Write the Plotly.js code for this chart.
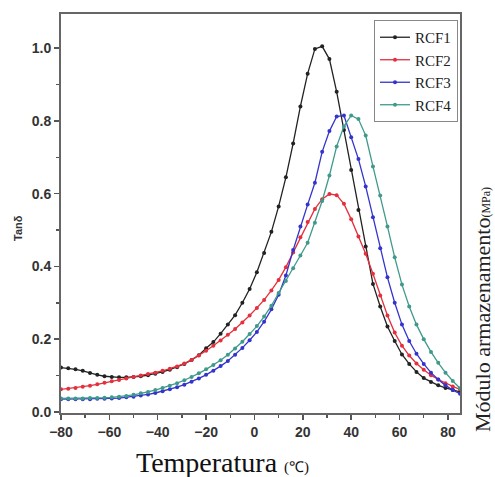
<!DOCTYPE html>
<html>
<head>
<meta charset="utf-8">
<script src="https://cdn.plot.ly/plotly-3.0.1.min.js"></script>
<style>html,body{margin:0;padding:0;background:#fff}#chart{width:495px;height:477px}</style>
</head>
<body>
<div id="chart"></div>
<script>
const temperature = [-80,-77,-74,-71,-68,-65,-62,-59,-56,-53,-50,-47,-44,-41,-38,-35,-32,-29,-26,-23,-20,-17,-14,-11,-8,-5,-2,1,4,7,10,13,16,19,22,25,28,31,34,37,40,43,46,49,52,55,58,61,64,67,70,73,76,79,82,85];

const rcf1 = [0.122,0.120,0.117,0.113,0.107,0.102,0.098,0.096,0.095,0.095,0.096,0.098,0.101,0.105,0.110,0.116,0.123,0.132,0.143,0.156,0.175,0.192,0.215,0.240,0.266,0.300,0.338,0.384,0.437,0.495,0.565,0.645,0.738,0.840,0.930,0.998,1.005,0.970,0.880,0.775,0.665,0.555,0.455,0.352,0.290,0.235,0.195,0.158,0.132,0.110,0.093,0.082,0.073,0.066,0.060,0.055];

const rcf2 = [0.062,0.064,0.066,0.069,0.072,0.076,0.080,0.084,0.088,0.092,0.096,0.100,0.104,0.108,0.113,0.119,0.125,0.133,0.143,0.155,0.168,0.182,0.196,0.212,0.228,0.246,0.265,0.286,0.308,0.334,0.363,0.398,0.438,0.480,0.522,0.558,0.585,0.599,0.596,0.572,0.530,0.482,0.435,0.380,0.320,0.265,0.218,0.182,0.155,0.133,0.116,0.101,0.089,0.079,0.070,0.062];

const rcf3 = [0.035,0.035,0.035,0.035,0.035,0.036,0.036,0.037,0.038,0.040,0.042,0.045,0.048,0.052,0.057,0.062,0.068,0.075,0.083,0.092,0.102,0.113,0.126,0.140,0.157,0.176,0.197,0.220,0.248,0.282,0.322,0.375,0.445,0.510,0.570,0.630,0.715,0.772,0.812,0.815,0.755,0.695,0.620,0.535,0.450,0.370,0.300,0.240,0.195,0.160,0.132,0.108,0.089,0.073,0.060,0.050];

const rcf4 = [0.037,0.037,0.037,0.037,0.038,0.038,0.039,0.040,0.042,0.044,0.047,0.051,0.055,0.060,0.066,0.072,0.079,0.087,0.096,0.106,0.117,0.129,0.142,0.157,0.174,0.193,0.214,0.236,0.262,0.292,0.327,0.360,0.395,0.430,0.465,0.520,0.580,0.650,0.730,0.785,0.815,0.805,0.760,0.675,0.595,0.510,0.425,0.350,0.290,0.240,0.200,0.165,0.135,0.108,0.085,0.065];

const seriesNames = ["RCF1","RCF2","RCF3","RCF4"];
const seriesColors = ["#222222","#e3303c","#3434cc","#3f9a8c"];
const seriesValues = [rcf1, rcf2, rcf3, rcf4];

const traces = seriesValues.map((vals, i) => ({
  x: temperature, y: vals, name: seriesNames[i],
  type: "scatter", mode: "lines+markers",
  legendgroup: "g" + i,
  line: {color: seriesColors[i], width: 1.3},
  marker: {color: seriesColors[i], size: 4}
}));

const tickFont = {family: "Liberation Sans, Arial, sans-serif", size: 14, color: "#333", weight: "bold"};

const layout = {
  width: 495, height: 477,
  margin: {l: 61, r: 35, t: 14, b: 64},
  paper_bgcolor: "#ffffff", plot_bgcolor: "#ffffff",
  showlegend: true,
  legend: {
    x: 0.995, y: 0.985, xanchor: "right", yanchor: "top",
    bordercolor: "#888", borderwidth: 1, bgcolor: "#ffffff",
    font: {family: "Liberation Serif, Times New Roman, serif", size: 15, color: "#222"},
    tracegroupgap: 0, itemwidth: 30
  },
  xaxis: {
    range: [-80, 85], tickvals: [-80,-60,-40,-20,0,20,40,60,80],
    ticks: "outside", ticklen: 5, tickwidth: 1.5, tickcolor: "#555",
    minor: {dtick: 10, tick0: -80, ticks: "outside", ticklen: 3, tickcolor: "#555", showgrid: false},
    showline: true, linecolor: "#666", linewidth: 2, mirror: true,
    showgrid: false, zeroline: false, tickfont: tickFont
  },
  yaxis: {
    range: [-0.003, 1.094], tickvals: [0,0.2,0.4,0.6,0.8,1.0], ticktext: ["0.0","0.2","0.4","0.6","0.8","1.0"],
    ticks: "outside", ticklen: 5, tickwidth: 1.5, tickcolor: "#555",
    minor: {dtick: 0.1, tick0: 0, ticks: "outside", ticklen: 3, tickcolor: "#555", showgrid: false},
    showline: true, linecolor: "#666", linewidth: 2, mirror: true,
    showgrid: false, zeroline: false, tickfont: tickFont
  },
  annotations: [
    {text: "Temperatura <span style='font-size:15px'>(℃)</span>", xref: "paper", yref: "paper",
     x: (222 - 61) / 399, y: -(462 - 413) / 399, xanchor: "center", yanchor: "middle", showarrow: false,
     font: {family: "Liberation Serif, Times New Roman, serif", size: 28, color: "#111"}},
    {text: "Tanδ", xref: "paper", yref: "paper", textangle: -90,
     x: (18 - 61) / 399, y: (413 - 228) / 399, xanchor: "center", yanchor: "middle", showarrow: false,
     font: {family: "Liberation Sans, Arial, sans-serif", size: 11, color: "#333", weight: "bold"}},
    {text: "Módulo armazenamento<span style='font-size:12px'>(MPa)</span>", xref: "paper", yref: "paper", textangle: -90,
     x: (482 - 61) / 399, y: (413 - 310) / 399, xanchor: "center", yanchor: "middle", showarrow: false,
     font: {family: "Liberation Serif, Times New Roman, serif", size: 22, color: "#222"}}
  ]
};

Plotly.newPlot("chart", traces, layout, {displayModeBar: false, staticPlot: true});
</script>
</body>
</html>
